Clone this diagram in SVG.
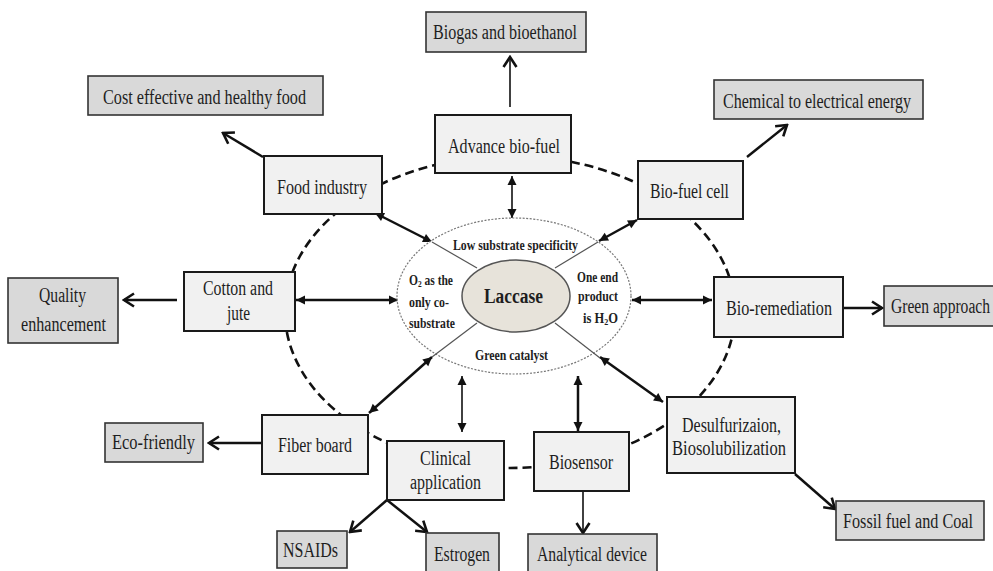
<svg xmlns="http://www.w3.org/2000/svg" width="993" height="571" viewBox="0 0 993 571">
<style>
.box{fill:#f1f1f1;stroke:#1a1a1a;stroke-width:2}
.gbox{fill:#d9d9d9;stroke:#333;stroke-width:1.6}
.t{font-family:'Liberation Serif',serif;font-size:20px;fill:#1e1e1e}
.s{font-family:'Liberation Serif',serif;font-size:14px;font-weight:bold;fill:#1e1e1e}
.ln{stroke:#111;stroke-width:2.5;fill:none}
.thin{stroke:#111;stroke-width:1.6;fill:none}
</style>
<defs>
<marker id="open" markerUnits="userSpaceOnUse" viewBox="-13 -9 15 18" markerWidth="15" markerHeight="18" refX="0" refY="0" orient="auto">
<path d="M-10,-6.5 L0,0 L-10,6.5" fill="none" stroke="#111" stroke-width="2.6"/>
</marker>
<marker id="tri" markerUnits="userSpaceOnUse" viewBox="-10 -6 12 12" markerWidth="12" markerHeight="12" refX="0" refY="0" orient="auto-start-reverse">
<path d="M-9,-4.5 L0,0 L-9,4.5 Z" fill="#111"/>
</marker>
</defs>
<rect width="993" height="571" fill="#fff"/>

<g id="ring">
<ellipse cx="510" cy="312" rx="225" ry="156" fill="none" stroke="#111" stroke-width="2.6" stroke-dasharray="9 5"/>
</g>

<g id="connectors">
<line class="thin" x1="510" y1="107" x2="510" y2="57" marker-end="url(#open)"/>
<line class="thin" x1="512" y1="176" x2="512" y2="218" marker-start="url(#tri)" marker-end="url(#tri)"/>
<line class="ln" x1="263" y1="157" x2="223" y2="133" marker-end="url(#open)"/>
<line class="ln" x1="375" y1="213" x2="432" y2="242" marker-start="url(#tri)" marker-end="url(#tri)"/>
<line class="ln" x1="747" y1="157" x2="787" y2="125" marker-end="url(#open)"/>
<line class="ln" x1="637" y1="220" x2="599" y2="241" marker-start="url(#tri)" marker-end="url(#tri)"/>
<line class="ln" x1="177" y1="300" x2="124" y2="300" marker-end="url(#open)"/>
<line class="ln" x1="296" y1="300" x2="398" y2="300" marker-start="url(#tri)" marker-end="url(#tri)"/>
<line class="ln" x1="632" y1="300" x2="712" y2="300" marker-start="url(#tri)" marker-end="url(#tri)"/>
<line class="ln" x1="843" y1="308" x2="882" y2="308" marker-end="url(#open)"/>
<line class="ln" x1="432" y1="357" x2="369" y2="413" marker-start="url(#tri)" marker-end="url(#tri)"/>
<line class="ln" x1="262" y1="443" x2="209" y2="443" marker-end="url(#open)"/>
<line class="thin" x1="462" y1="376" x2="462" y2="432" marker-start="url(#tri)" marker-end="url(#tri)"/>
<line class="ln" x1="578" y1="376" x2="578" y2="431" marker-start="url(#tri)" marker-end="url(#tri)"/>
<line class="ln" x1="600" y1="357" x2="663" y2="402" marker-start="url(#tri)" marker-end="url(#tri)"/>
<line class="ln" x1="795" y1="474" x2="835" y2="509" marker-end="url(#open)"/>
<line class="ln" x1="387" y1="500" x2="350" y2="532" marker-end="url(#open)"/>
<line class="ln" x1="387" y1="500" x2="427" y2="532" marker-end="url(#open)"/>
<line class="thin" stroke-width="2" x1="583" y1="491" x2="583" y2="533" marker-end="url(#open)"/>
</g>

<g id="laccase-core">
<ellipse cx="514" cy="296" rx="117" ry="78" fill="#fff" stroke="#777" stroke-width="1.2" stroke-dasharray="2 1.5"/>
<line x1="477" y1="268" x2="432" y2="242" stroke="#555" stroke-width="1.2"/>
<line x1="555" y1="268" x2="598" y2="242" stroke="#555" stroke-width="1.2"/>
<line x1="477" y1="323" x2="432" y2="357" stroke="#555" stroke-width="1.2"/>
<line x1="555" y1="323" x2="600" y2="358" stroke="#555" stroke-width="1.2"/>
<ellipse cx="516" cy="296" rx="54" ry="36" fill="#e7e3da" stroke="#555" stroke-width="1.5"/>
<text class="t" x="484" y="303" font-size="26" font-weight="bold" textLength="59" lengthAdjust="spacingAndGlyphs">Laccase</text>
<text class="s" x="453" y="250" textLength="125" lengthAdjust="spacingAndGlyphs">Low substrate specificity</text>
<text class="s" x="475" y="360" textLength="73" lengthAdjust="spacingAndGlyphs">Green catalyst</text>
<text class="s" x="409" y="285" textLength="44" lengthAdjust="spacingAndGlyphs">O<tspan font-size="9" dy="2">2</tspan><tspan dy="-2"> as the</tspan></text>
<text class="s" x="409" y="307" textLength="40" lengthAdjust="spacingAndGlyphs">only co-</text>
<text class="s" x="409" y="328" textLength="46" lengthAdjust="spacingAndGlyphs">substrate</text>
<text class="s" x="577" y="282" textLength="41" lengthAdjust="spacingAndGlyphs">One end</text>
<text class="s" x="578" y="301" textLength="40" lengthAdjust="spacingAndGlyphs">product</text>
<text class="s" x="583" y="323" textLength="35" lengthAdjust="spacingAndGlyphs">is H<tspan font-size="9" dy="1.5">2</tspan><tspan dy="-1.5">O</tspan></text>
</g>

<g id="biogas"><rect class="gbox" x="426" y="12" width="160" height="40"/><text class="t" x="433" y="39" textLength="144" lengthAdjust="spacingAndGlyphs">Biogas and bioethanol</text></g>
<g id="cost-food"><rect class="gbox" x="88" y="76" width="235" height="39"/><text class="t" x="103" y="104" textLength="203" lengthAdjust="spacingAndGlyphs">Cost effective and healthy food</text></g>
<g id="chem-elec"><rect class="gbox" x="714" y="80" width="209" height="39"/><text class="t" x="723" y="108" textLength="188" lengthAdjust="spacingAndGlyphs">Chemical to electrical  energy</text></g>
<g id="advance-biofuel"><rect class="box" x="435" y="115" width="136" height="58"/><text class="t" x="448" y="153" textLength="112" lengthAdjust="spacingAndGlyphs">Advance bio-fuel</text></g>
<g id="food-industry"><rect class="box" x="264" y="156" width="118" height="58"/><text class="t" x="277" y="194" textLength="90" lengthAdjust="spacingAndGlyphs">Food industry</text></g>
<g id="biofuel-cell"><rect class="box" x="638" y="161" width="105" height="58"/><text class="t" x="650" y="198" textLength="79" lengthAdjust="spacingAndGlyphs">Bio-fuel cell</text></g>
<g id="cotton-jute"><rect class="box" x="184" y="272" width="111" height="59"/><text class="t" x="203" y="295" textLength="70" lengthAdjust="spacingAndGlyphs">Cotton and</text><text class="t" x="227" y="320" textLength="23" lengthAdjust="spacingAndGlyphs">jute</text></g>
<g id="quality"><rect class="gbox" x="8" y="278" width="110" height="65"/><text class="t" x="39" y="302" textLength="47" lengthAdjust="spacingAndGlyphs">Quality</text><text class="t" x="21" y="331" textLength="85" lengthAdjust="spacingAndGlyphs">enhancement</text></g>
<g id="bioremediation"><rect class="box" x="714" y="277" width="129" height="60"/><text class="t" x="726" y="315" textLength="106" lengthAdjust="spacingAndGlyphs">Bio-remediation</text></g>
<g id="green-approach"><rect class="gbox" x="884" y="286" width="115" height="40"/><text class="t" x="891" y="313" font-size="18" textLength="99" lengthAdjust="spacingAndGlyphs">Green approach</text></g>
<g id="fiber-board"><rect class="box" x="262" y="415" width="106" height="59"/><text class="t" x="278" y="452" textLength="74" lengthAdjust="spacingAndGlyphs">Fiber board</text></g>
<g id="eco-friendly"><rect class="gbox" x="105" y="423" width="98" height="39"/><text class="t" x="112" y="449" textLength="83" lengthAdjust="spacingAndGlyphs">Eco-friendly</text></g>
<g id="clinical"><rect class="box" x="387" y="441" width="117" height="59"/><text class="t" x="420" y="465" textLength="51" lengthAdjust="spacingAndGlyphs">Clinical</text><text class="t" x="410" y="489" textLength="71" lengthAdjust="spacingAndGlyphs">application</text></g>
<g id="biosensor"><rect class="box" x="534" y="432" width="95" height="59"/><text class="t" x="549" y="469" textLength="64" lengthAdjust="spacingAndGlyphs">Biosensor</text></g>
<g id="desulf"><rect class="box" x="667" y="397" width="128" height="76"/><text class="t" x="682" y="432" textLength="99" lengthAdjust="spacingAndGlyphs">Desulfurizaion,</text><text class="t" x="672" y="455" textLength="114" lengthAdjust="spacingAndGlyphs">Biosolubilization</text></g>
<g id="fossil"><rect class="gbox" x="836" y="501" width="148" height="39"/><text class="t" x="843" y="528" font-size="18" textLength="130" lengthAdjust="spacingAndGlyphs">Fossil fuel and Coal</text></g>
<g id="nsaids"><rect class="gbox" x="277" y="531" width="70" height="37"/><text class="t" x="283" y="557" textLength="55" lengthAdjust="spacingAndGlyphs">NSAIDs</text></g>
<g id="estrogen"><rect class="gbox" x="426" y="533" width="73" height="40"/><text class="t" x="434" y="561" textLength="56" lengthAdjust="spacingAndGlyphs">Estrogen</text></g>
<g id="analytical"><rect class="gbox" x="528" y="534" width="129" height="40" stroke-width="2.2"/><text class="t" x="537" y="561" textLength="110" lengthAdjust="spacingAndGlyphs">Analytical device</text></g>
</svg>
